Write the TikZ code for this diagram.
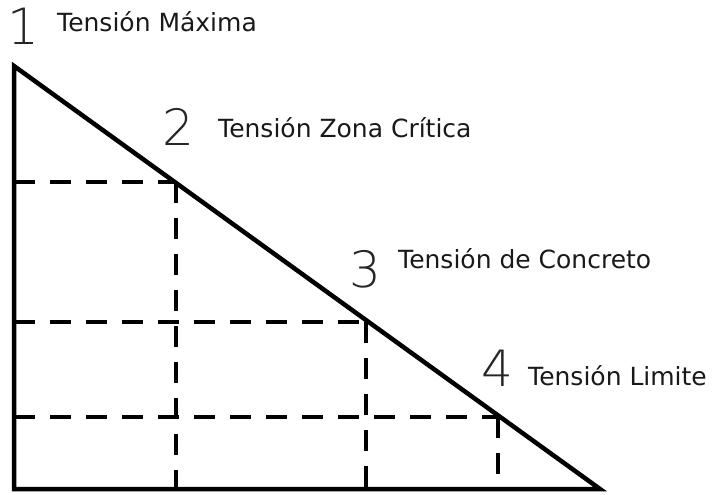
\documentclass[tikz,border=0pt]{standalone}
\usepackage{fontspec}
\setmainfont{DejaVu Sans}
\newfontfamily\digitfont{DejaVu Sans ExtraLight}
\begin{document}
\begin{tikzpicture}[x=1pt,y=-1pt,
  solidline/.style={line width=4.5pt,line cap=rect,line join=miter},
  dashline/.style={line width=4.5pt,dash pattern=on 21pt off 15pt},
  lbl/.style={anchor=base west,inner sep=0pt,text=black!90,font=\fontsize{25}{28}\selectfont},
  num/.style={anchor=base,inner sep=0pt,text=black!85,font=\digitfont\fontsize{50}{54}\selectfont}]
\useasboundingbox (0,0) rectangle (712,495);
% key points
\coordinate (A) at (14,66);
\coordinate (B) at (14,489);
\coordinate (C) at (600,489);
\coordinate (P2) at (176,182);
\coordinate (P3) at (366,322);
\coordinate (P4) at (498,417);
\coordinate (L2) at (14,182);
\coordinate (L3) at (14,322);
\coordinate (L4) at (14,417);
\coordinate (F2) at (176,489);
\coordinate (F3) at (366,489);
\coordinate (F4) at (498,489);
% dashed guides
\draw[dashline] (L2) -- (P2);
\draw[dashline] (P2) -- (F2);
\draw[dashline] (L3) -- (P3);
\draw[dashline] (P3) -- (F3);
\draw[dashline] (L4) -- (P4);
\draw[dashline] (P4) -- (F4);
% triangle
\draw[solidline] (A) -- (B) -- (C) -- cycle;
% labels
\node[num] (n1) at (23,45) {1};
\node[num] (n2) at (178,145) {2};
\node[num] (n3) at (365,287) {3};
\node[num] (n4) at (497,386) {4};
\node[lbl] (t1) at (57,32) {Tensión Máxima};
\node[lbl] (t2) at (218,137) {Tensión Zona Crítica};
\node[lbl] (t3) at (398,268) {Tensión de Concreto};
\node[lbl] (t4) at (528,385) {Tensión Limite};
\end{tikzpicture}
\end{document}
